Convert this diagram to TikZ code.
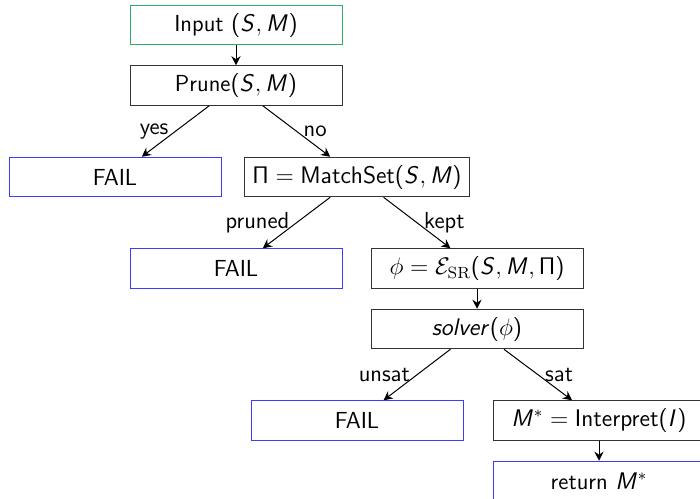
\documentclass[tikz,border=0pt]{standalone}
\usepackage{amsmath}
\usetikzlibrary{arrows.meta,positioning}
\definecolor{startgreen}{HTML}{2EAD66}
\definecolor{failblue}{HTML}{3B3BFF}
\definecolor{stepgray}{HTML}{333333}
\DeclareSymbolFont{operators}{OT1}{cmss}{m}{n}
\DeclareMathAlphabet{\mathsfit}{OT1}{cmss}{m}{sl}

\begin{document}
\begin{tikzpicture}[
    x=0.5pt,y=-0.5pt,
    font=\sffamily\fontsize{11.6}{14}\selectfont,
    node distance=10pt,
    line width=0.5pt,
    box/.style={draw=stepgray,minimum width=106pt,minimum height=19.75pt,
      inner xsep=4pt},
    start/.style={box,draw=startgreen},
    fail/.style={box,draw=failblue},
    flow/.style={-{Stealth[length=4.5pt,width=4.5pt]},draw=black}
  ]
  \useasboundingbox (0,0) rectangle (700,498);
  \clip (0,0) rectangle (700,498);
  \node[start] (input) at (236,25) {Input $(\mathsfit{S},\mathsfit{M})$};
  \node[box,below=of input] (prune) {Prune$(\mathsfit{S},\mathsfit{M})$};
  \node[fail,below=25.5pt of prune,xshift=-60.5pt] (fail1) {FAIL};
  \node[box,below=25.5pt of prune,xshift=60.5pt] (match)
    {$\Pi=\mathsf{MatchSet}(\mathsfit{S},\mathsfit{M})$};
  \node[fail,below=25.5pt of match,xshift=-60.5pt] (fail2) {FAIL};
  \node[box,below=25.5pt of match,xshift=60pt] (encode)
    {$\phi=\mathcal{E}_{\textrm{SR}}(\mathsfit{S},\mathsfit{M},\Pi)$};
  \node[box,below=of encode] (solver) {$\mathsfit{solver}(\phi)$};
  \node[fail,below=25.5pt of solver,xshift=-60pt] (fail3) {FAIL};
  \node[box,below=25.5pt of solver,xshift=61pt] (interp)
    {$\mathsfit{M}^*=\mathsf{Interpret}(\mathsfit{I})$};
  \node[fail,below=of interp] (result) {return $\mathsfit{M}^*$};

  \draw[flow] (input) -- (prune);
  \draw[flow] (prune) -- node[left] {yes} (fail1);
  \draw[flow] (prune) -- node[right] {no} (match);
  \draw[flow] (match) -- node[left] {pruned} (fail2);
  \draw[flow] (match) -- node[right] {kept} (encode);
  \draw[flow] (encode) -- (solver);
  \draw[flow] (solver) -- node[left] {unsat} (fail3);
  \draw[flow] (solver) -- node[right] {sat} (interp);
  \draw[flow] (interp) -- (result);
\end{tikzpicture}
\end{document}
